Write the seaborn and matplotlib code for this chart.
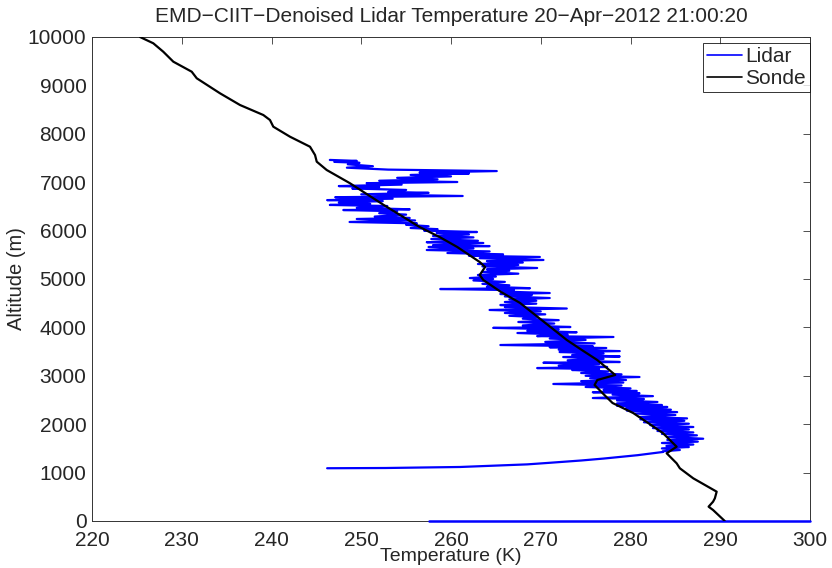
import numpy as np
import pandas as pd
import matplotlib
matplotlib.use("Agg")
import matplotlib.pyplot as plt
import seaborn as sns
from matplotlib.lines import Line2D

# ---------------- data ----------------
sonde_temp = [225.35, 226.83, 227.94, 229.06, 231.11, 231.67, 234.26, 236.49, 239.09, 239.83,
              240.20, 242.06, 244.29, 244.85, 245.04, 246.15, 248.7, 252.5, 256.5, 258.8,
              260.7, 263.2, 263.8, 263.2, 263.6, 265.5, 267.7, 269.1, 271.0, 272.9,
              274.6, 276.3, 278.3, 276.3, 276.0, 277.0, 278.0, 280.3, 282.0, 283.6,
              285.14, 284.03, 285.14, 285.5, 286.99, 289.6, 289.4, 289.2, 288.7, 289.2,
              290.5]
sonde_alt = [10000, 9870, 9696, 9490, 9283, 9147, 8837, 8595, 8388, 8285,
             8147, 7940, 7733, 7562, 7424, 7252, 6983, 6530, 6074, 5860,
             5661, 5351, 5248, 5083, 4979, 4740, 4504, 4298, 4020, 3740,
             3530, 3326, 3017, 2913, 2810, 2620, 2438, 2231, 2020, 1818,
             1535, 1399, 1192, 1089, 882, 606, 469, 399, 296, 227,
             0]

lidar_alt = [7460, 7440, 7420, 7400, 7370, 7330, 7300, 7260, 7230, 7200,
             7180, 7150, 7120, 7090, 7060, 7030, 7004, 6980, 6950, 6920,
             6900, 6870, 6840, 6800, 6780, 6750, 6715, 6690, 6660, 6630,
             6610, 6580, 6550, 6530, 6508, 6470, 6440, 6425, 6400, 6360,
             6330, 6290, 6260, 6240, 6210, 6178, 6150, 6120, 6090, 6054,
             6030, 6000, 5971, 5950, 5920, 5888, 5860, 5826, 5790, 5760,
             5744, 5700, 5680, 5661, 5630, 5599, 5570, 5537, 5510, 5480,
             5455, 5430, 5393, 5370, 5340, 5310, 5290, 5260, 5227, 5200,
             5170, 5145, 5110, 5083, 5050, 5020, 5000, 4970, 4940, 4900,
             4870, 4840, 4810, 4793, 4770, 4740, 4710, 4690, 4669, 4640,
             4607, 4580, 4550, 4525, 4490, 4462, 4440, 4421, 4390, 4360,
             4330, 4298, 4270, 4240, 4215, 4180, 4150, 4112, 4080, 4040,
             4008, 3990, 3960, 3930, 3900, 3884, 3850, 3820, 3802, 3770,
             3740, 3700, 3670, 3636, 3610, 3590, 3574, 3540, 3510, 3492,
             3460, 3430, 3400, 3388, 3350, 3320, 3285, 3270, 3240, 3210,
             3182, 3160, 3140, 3120, 3090, 3058, 3030, 3000, 2975, 2950,
             2913, 2890, 2860, 2831, 2800, 2769, 2740, 2710, 2686, 2660,
             2640, 2610, 2580, 2541, 2520, 2490, 2459, 2430, 2397, 2380,
             2355, 2330, 2300, 2280, 2250, 2220, 2190, 2149, 2120, 2100,
             2070, 2040, 2010, 1980, 1942, 1920, 1890, 1860, 1830, 1800,
             1770, 1736, 1700, 1674, 1640, 1612, 1580, 1550, 1529, 1500,
             1467, 1440, 1426, 1400, 1360, 1322, 1290, 1250, 1219, 1200,
             1170, 1140, 1116, 1105, 1095, 1090]
lidar_temp = [246.5, 249.5, 247.0, 249.8, 248.5, 251.3, 248.4, 253.0, 265.1, 256.5,
              262.0, 255.5, 260.0, 254.0, 258.5, 252.0, 260.7, 250.6, 254.5, 247.5,
              252.0, 249.0, 255.0, 253.0, 257.5, 250.0, 261.3, 247.1, 253.5, 246.2,
              252.4, 247.5, 251.0, 246.5, 252.9, 249.5, 255.4, 248.0, 254.0, 252.0,
              255.0, 251.5, 255.4, 249.5, 256.0, 248.7, 256.2, 255.0, 257.5, 255.5,
              258.5, 257.0, 262.9, 258.4, 262.0, 258.0, 262.5, 257.8, 263.0, 257.3,
              263.6, 258.0, 264.3, 257.5, 262.5, 257.3, 264.3, 259.6, 265.8, 262.0,
              269.9, 263.2, 270.3, 264.0, 268.0, 263.0, 267.5, 263.5, 269.6, 264.0,
              266.5, 263.5, 267.5, 263.0, 265.0, 262.1, 264.7, 262.5, 266.0, 263.5,
              266.5, 264.0, 268.8, 258.8, 267.0, 265.8, 271.0, 265.5, 269.0, 266.0,
              271.0, 266.5, 269.5, 266.0, 269.5, 265.5, 268.0, 266.0, 272.9, 264.3,
              270.0, 266.0, 270.5, 266.5, 269.5, 268.0, 272.0, 267.5, 271.5, 268.0,
              273.3, 264.7, 272.0, 268.5, 274.0, 267.4, 273.0, 269.6, 278.1, 271.0,
              275.0, 270.5, 276.0, 265.5, 275.8, 271.0, 277.3, 272.0, 278.8, 272.1,
              277.0, 273.5, 278.8, 272.5, 277.0, 273.0, 278.8, 270.3, 276.5, 272.0,
              277.4, 269.6, 276.5, 273.5, 277.5, 274.5, 279.0, 275.0, 281.0, 275.5,
              279.5, 274.5, 279.2, 271.4, 279.0, 275.0, 280.0, 277.0, 280.7, 275.8,
              281.0, 278.0, 282.5, 275.8, 281.5, 278.5, 283.0, 278.5, 283.5, 278.5,
              284.1, 279.5, 284.5, 279.6, 285.2, 280.5, 285.0, 281.0, 286.3, 281.1,
              286.0, 281.5, 286.5, 282.2, 287.0, 282.5, 286.5, 283.0, 287.0, 283.5,
              287.4, 284.1, 288.1, 284.1, 287.5, 283.5, 287.0, 284.0, 286.5, 283.5,
              285.5, 283.6, 283.6, 282.5, 280.8, 278.8, 277.0, 274.5, 272.1, 270.8,
              268.5, 264.5, 261.0, 257.0, 252.7, 246.2]

# surface segment of the lidar profile
lidar_sfc_temp = [257.5, 300.0]
lidar_sfc_alt = [0, 0]

x_ticks = [220, 230, 240, 250, 260, 270, 280, 290, 300]
y_ticks = [0, 1000, 2000, 3000, 4000, 5000, 6000, 7000, 8000, 9000, 10000]

# ---------------- plot ----------------
sns.set_style("white")
plt.rcParams['font.family'] = ['Liberation Sans', 'DejaVu Sans']

fig = plt.figure(figsize=(8.32, 5.68), dpi=100)
ax = fig.add_axes([92 / 832, 1 - 521 / 568, (810 - 92) / 832, (521 - 37) / 568])

df_l = pd.DataFrame({"T": lidar_temp, "z": lidar_alt})
df_s = pd.DataFrame({"T": sonde_temp, "z": sonde_alt})
df_ls = pd.DataFrame({"T": lidar_sfc_temp, "z": lidar_sfc_alt})

sns.lineplot(data=df_l, x="T", y="z", sort=False, estimator=None, color="#0000ff",
             lw=1.6, ax=ax)
sns.lineplot(data=df_ls, x="T", y="z", sort=False, estimator=None, color="#0000ff",
             lw=1.8, ax=ax, clip_on=False, zorder=3)
sns.lineplot(data=df_s, x="T", y="z", sort=False, estimator=None, color="black",
             lw=1.6, ax=ax, zorder=4)

ax.set_xlim(220, 300)
ax.set_ylim(0, 10000)
ax.set_xticks(x_ticks)
ax.set_yticks(y_ticks)
ax.set_xticklabels([str(v) for v in x_ticks])
ax.set_yticklabels([str(v) for v in y_ticks])
ax.tick_params(direction="in", length=5, width=0.6, top=True, right=True,
               labelsize=15, color="#333333")
ax.tick_params(axis="x", pad=7)
ax.tick_params(axis="y", pad=4)
for s in ax.spines.values():
    s.set_color("#333333")
    s.set_linewidth(0.7)

ax.set_xlabel("Temperature (K)", fontsize=14, labelpad=-1)
ax.set_ylabel("Altitude (m)", fontsize=14.5, labelpad=1)
ax.set_title("EMD\u2212CIIT\u2212Denoised Lidar Temperature 20\u2212Apr\u22122012 21:00:20",
             fontsize=15, pad=11)

handles = [Line2D([], [], color="#0000ff", lw=1.2),
           Line2D([], [], color="black", lw=1.2)]
leg = ax.legend(handles, ["Lidar", "Sonde"], loc="upper right",
                bbox_to_anchor=(1.0, 0.988), fontsize=15,
                frameon=True, fancybox=False, borderaxespad=0.0,
                handlelength=1.7, handletextpad=0.15, borderpad=0.2,
                labelspacing=0.15)
leg.get_frame().set_edgecolor("black")
leg.get_frame().set_linewidth(0.7)

fig.savefig("out.png", dpi=100)
